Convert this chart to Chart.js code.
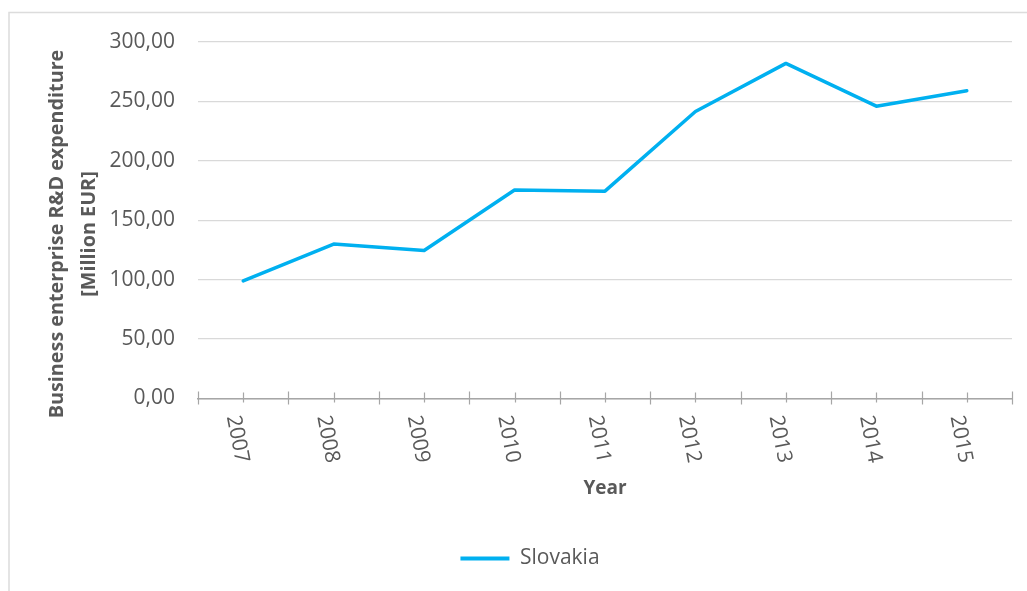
<!DOCTYPE html>
<html>
<head>
<meta charset="utf-8">
<title>Business enterprise R&amp;D expenditure – Slovakia</title>
<script src="https://cdn.jsdelivr.net/npm/chart.js@4.4.1/dist/chart.umd.min.js"></script>
<style>
  html, body { margin: 0; padding: 0; background: #ffffff; }
  #wrap { width: 1027px; height: 591px; position: relative; }
</style>
</head>
<body>
<div id="wrap"><canvas id="chart" width="1027" height="591"></canvas></div>
<script>
// Business enterprise R&D expenditure, Slovakia (million EUR)
const years = ['2007', '2008', '2009', '2010', '2011', '2012', '2013', '2014', '2015'];
const slovakia = [99, 130, 124.5, 175.5, 174.5, 241.5, 282, 246, 259];
const seriesName = 'Slovakia';
const yAxisTitle = ['Business enterprise R&D expenditure', '[Million EUR]'];
const xAxisTitle = 'Year';
const yMin = 0, yMax = 300, yStep = 50;

const FONT = '"Open Sans", "Noto Sans", "DejaVu Sans", sans-serif';
const TEXT = '#595959';
const LINE = '#00b0f0';
const GRID = '#d9d9d9';
const AXIS = '#a6a6a6';

// Light frame around the chart object
const framePlugin = {
  id: 'frame',
  beforeDraw(chart) {
    const ctx = chart.ctx;
    ctx.save();
    ctx.strokeStyle = '#dcdcdc';
    ctx.lineWidth = 1.5;
    ctx.beginPath();
    ctx.moveTo(9, chart.height);
    ctx.lineTo(9, 12.5);
    ctx.lineTo(chart.width, 12.5);
    ctx.stroke();
    ctx.restore();
  }
};

// Category tick marks, rotated year labels and axis titles
const axisDecor = {
  id: 'axisDecor',
  afterDraw(chart) {
    const ctx = chart.ctx;
    const xs = chart.scales.x;
    const area = chart.chartArea;
    const n = years.length;
    const step = xs.getPixelForTick(1) - xs.getPixelForTick(0);
    const axisY = xs.top;

    ctx.save();
    ctx.strokeStyle = AXIS;
    ctx.lineWidth = 1.2;
    ctx.beginPath();
    for (let i = 0; i <= n; i++) {
      const bx = Math.round(xs.getPixelForTick(0) - step / 2 + i * step) + 0.5;
      ctx.moveTo(bx, axisY - 7);
      ctx.lineTo(bx, axisY + 6);
    }
    for (let i = 0; i < n; i++) {
      const cx = Math.round(xs.getPixelForTick(i)) + 0.5;
      ctx.moveTo(cx, axisY - 6);
      ctx.lineTo(cx, axisY + 4);
    }
    ctx.stroke();

    // year labels, reading downward
    ctx.fillStyle = TEXT;
    ctx.font = '21px ' + FONT;
    ctx.textAlign = 'left';
    ctx.textBaseline = 'middle';
    const ang = 79 * Math.PI / 180;
    for (let i = 0; i < n; i++) {
      const x = xs.getPixelForTick(i) - 10.5;
      ctx.save();
      ctx.translate(x, axisY + 17);
      ctx.rotate(ang);
      ctx.fillText(years[i], 0, 0);
      ctx.restore();
    }

    // x-axis title
    ctx.font = 'bold 19px ' + FONT;
    ctx.textAlign = 'center';
    ctx.fillText(xAxisTitle, (area.left + area.right) / 2, 489);

    // y-axis title, two lines
    ctx.font = 'bold 19.8px ' + FONT;
    ctx.save();
    ctx.translate(57, 234);
    ctx.rotate(-Math.PI / 2);
    ctx.fillText(yAxisTitle[0], 0, 0);
    ctx.restore();
    ctx.save();
    ctx.translate(89, 234);
    ctx.rotate(-Math.PI / 2);
    ctx.fillText(yAxisTitle[1], 0, 0);
    ctx.restore();
    ctx.restore();
  }
};

new Chart(document.getElementById('chart'), {
  type: 'line',
  data: {
    labels: years,
    datasets: [{
      label: seriesName,
      data: slovakia,
      borderColor: LINE,
      backgroundColor: LINE,
      borderWidth: 3.5,
      borderJoinStyle: 'round',
      borderCapStyle: 'round',
      pointRadius: 0,
      pointHoverRadius: 0,
      tension: 0,
      fill: false
    }]
  },
  options: {
    responsive: false,
    animation: false,
    events: [],
    layout: { padding: { left: 48, right: 15, top: 42, bottom: 12 } },
    scales: {
      x: {
        type: 'category',
        offset: true,
        afterFit(scale) { scale.height = 139.5; },
        grid: { display: false, drawTicks: false },
        border: { display: true, color: AXIS, width: 1.5 },
        ticks: { display: false }
      },
      y: {
        min: yMin,
        max: yMax,
        afterFit(scale) { scale.width = 150; },
        grid: { color: GRID, lineWidth: 1.3, drawTicks: false },
        border: { display: false },
        ticks: {
          stepSize: yStep,
          padding: 23,
          color: TEXT,
          font: { family: FONT, size: 21 },
          callback: (v) => Number(v).toFixed(2).replace('.', ',')
        }
      }
    },
    plugins: {
      tooltip: { enabled: false },
      title: { display: false },
      legend: {
        display: true,
        position: 'bottom',
        labels: {
          color: TEXT,
          font: { family: FONT, size: 21 },
          boxWidth: 49,
          boxHeight: 4,
          padding: 10,
          generateLabels(chart) {
            const items = Chart.defaults.plugins.legend.labels.generateLabels(chart);
            items.forEach(it => { it.lineWidth = 0; it.fillStyle = LINE; it.strokeStyle = LINE; });
            return items;
          }
        }
      }
    }
  },
  plugins: [framePlugin, axisDecor]
});
</script>
</body>
</html>
